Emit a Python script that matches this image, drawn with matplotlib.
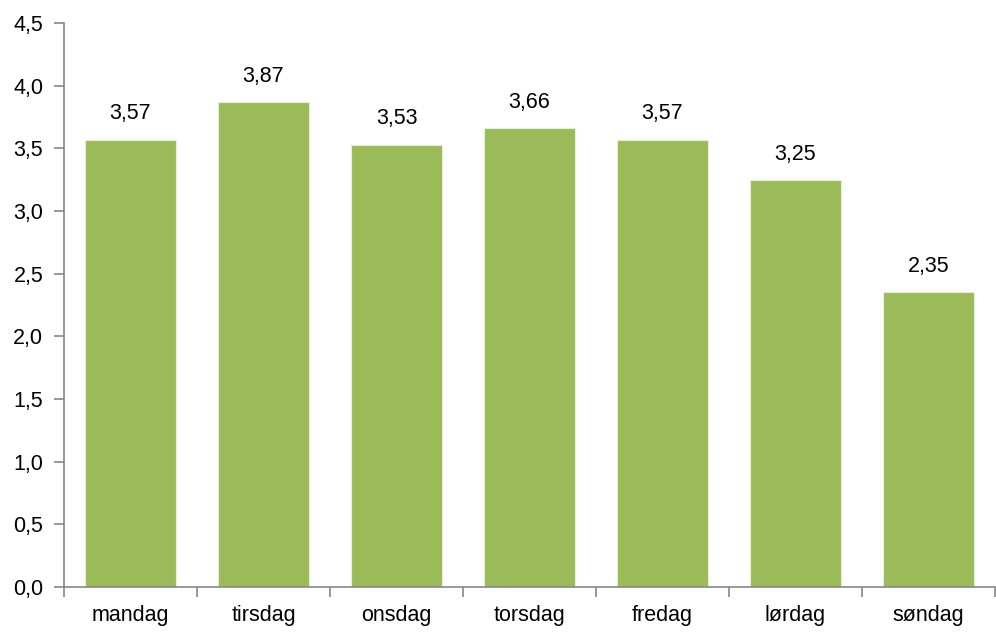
import matplotlib
matplotlib.use("Agg")
import matplotlib.pyplot as plt
import numpy as np

categories = ["mandag", "tirsdag", "onsdag", "torsdag", "fredag", "lørdag", "søndag"]
values = [3.57, 3.87, 3.53, 3.66, 3.57, 3.25, 2.35]
yticks = [0.0, 0.5, 1.0, 1.5, 2.0, 2.5, 3.0, 3.5, 4.0, 4.5]

plt.rcParams['font.family'] = ['Liberation Sans', 'DejaVu Sans']

fig = plt.figure(figsize=(9.96, 6.37), dpi=100)
ax = fig.add_axes([0.0643, 0.0785, 0.9347, 0.8855])

x = np.arange(len(categories))
ax.bar(x, values, width=0.68, color="#9BBB59", edgecolor="#E6EFD8", linewidth=0.8, zorder=2)

for xi, v in zip(x, values):
    ax.text(xi, v + 0.12, f"{v:.2f}".replace(".", ","), ha="center", va="bottom", fontsize=15.5, color="black")

ax.set_xlim(-0.5, len(categories) - 0.5)
ax.set_ylim(0, 4.5)
ax.set_yticks(yticks)
ax.set_yticklabels([f"{t:.1f}".replace(".", ",") for t in yticks], fontsize=15.5)

ax.set_xticks(x)
ax.set_xticklabels(categories, fontsize=15.5)
ax.tick_params(axis="x", which="major", length=0, pad=13)
ax.set_xticks(np.arange(len(categories) + 1) - 0.5, minor=True)
ax.tick_params(axis="x", which="minor", length=7, width=1.2, color="#888888", direction="out")
ax.tick_params(axis="y", length=7, width=1.2, color="#888888", direction="out", pad=8)

for s in ["top", "right"]:
    ax.spines[s].set_visible(False)
for s in ["left", "bottom"]:
    ax.spines[s].set_color("#888888")
    ax.spines[s].set_linewidth(1.2)

fig.savefig("out.png", dpi=100)
